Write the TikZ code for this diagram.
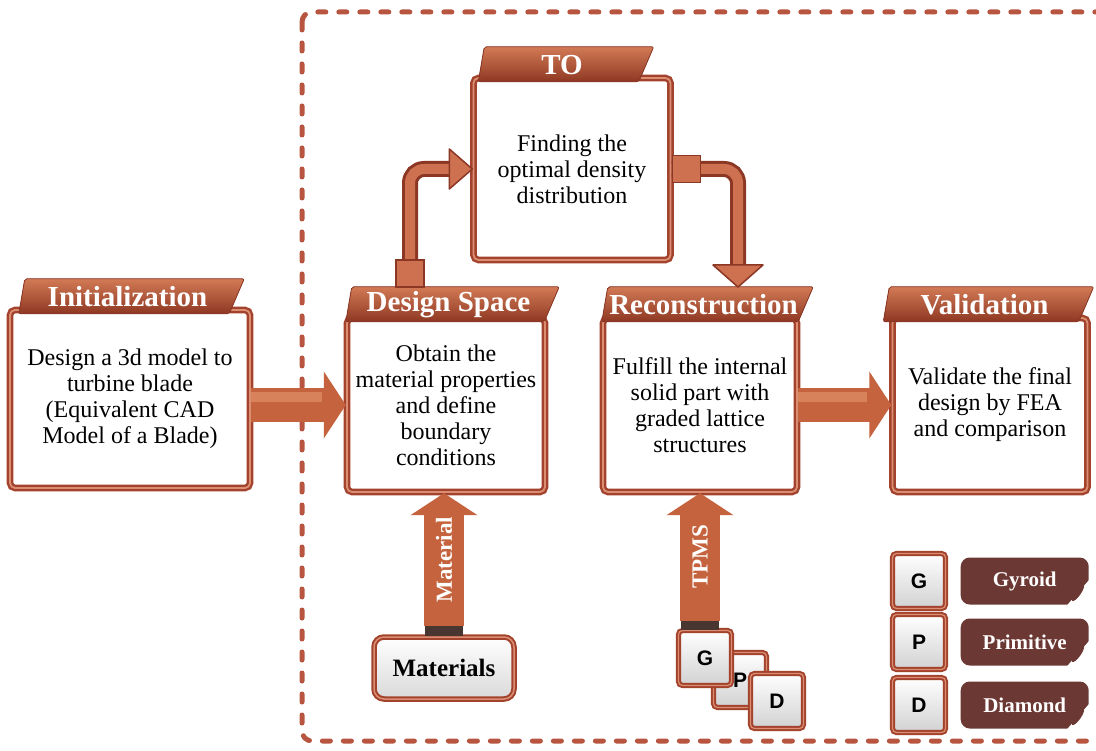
\documentclass[tikz,border=0pt]{standalone}
\usepackage{fontspec}
\setmainfont{Liberation Serif}
\newfontfamily\keyfont{Liberation Sans}
\usepackage{tikz}
\usetikzlibrary{calc, positioning, arrows.meta, shadows}

\definecolor{frameclr}{HTML}{A3432D}
\definecolor{framelt}{HTML}{DB8E72}
\definecolor{bannertop}{HTML}{D27A55}
\definecolor{bannerbot}{HTML}{8E3823}
\definecolor{arrowclr}{HTML}{C4633D}
\definecolor{arrowlt}{HTML}{D7825B}
\definecolor{pipedark}{HTML}{8C3624}
\definecolor{pipelt}{HTML}{CD7150}
\definecolor{tagclr}{HTML}{6B3834}
\definecolor{stubclr}{HTML}{4A3631}
\definecolor{dashclr}{HTML}{B85540}

\tikzset{
  stagebox/.style={rectangle, draw=frameclr, line width=2.4pt, double=framelt, double distance=1.8pt,
    rounded corners=5pt, fill=white, align=center, font=\fontsize{24}{26}\selectfont,
    drop shadow={opacity=0.2, shadow xshift=2pt, shadow yshift=-2pt}},
  banner/.style={top color=bannertop, bottom color=bannerbot, draw=pipedark, line width=0.8pt, rounded corners=2pt},
  title/.style={text=white, font=\bfseries\fontsize{29}{31}\selectfont},
  blockarr/.style={draw=arrowclr, line width=34pt, -{Triangle[length=22pt,width=66pt]}},
  vertarr/.style={blockarr, line width=40pt},
  shine/.style={draw=arrowlt, line width=10pt},
  stub/.style={draw=stubclr, line width=38pt},
  arrtext/.style={text=white, font=\bfseries\fontsize{23}{25}\selectfont},
  pipe/.style={draw=pipedark, line width=3pt, double=pipelt, double distance=10pt, rounded corners=14pt},
  pipehead/.style={fill=pipelt, draw=pipedark, line width=1.5pt, line join=round},
  sqmark/.style={rectangle, minimum width=28pt, minimum height=27pt, fill=pipelt, draw=pipedark, line width=1.5pt},
  keycap/.style={rectangle, rounded corners=4pt, minimum width=53pt, minimum height=55pt,
    draw=frameclr, line width=2pt, double=framelt, double distance=1.2pt,
    top color=white, bottom color=black!18, font=\keyfont\bfseries\fontsize{21}{21}\selectfont},
  tag/.style={rectangle, rounded corners=9pt, fill=tagclr, minimum width=128pt, minimum height=47pt,
    text=white, font=\bfseries\fontsize{21}{23}\selectfont},
  matbox/.style={rectangle, rounded corners=10pt, minimum width=140pt, minimum height=62pt,
    draw=frameclr, line width=2pt, double=framelt, double distance=1.5pt,
    top color=white, bottom color=black!15, font=\bfseries\fontsize{25}{27}\selectfont,
    drop shadow={opacity=0.2, shadow xshift=2pt, shadow yshift=-2pt}},
  dashframe/.style={draw=dashclr, line width=5pt, line cap=round, dash pattern=on 8pt off 13pt, rounded corners=10pt}
}

\begin{document}
\begin{tikzpicture}[x=1pt, y=-1pt]
  \useasboundingbox (0,0) rectangle (1096,751);
  \clip (0,0) rectangle (1096,751);
  \fill[white] (0,0) rectangle (1096,751);

  % dashed frame round the optimisation loop
  \draw[dashframe] (302,12) rectangle (1140,741);

  % the five stages
  \node[stagebox, minimum width=240pt, minimum height=178pt] (init) at (130,399)
    {Design a 3d model to\\turbine blade\\(Equivalent CAD\\Model of a Blade)};
  \node[stagebox, minimum width=198pt, minimum height=174pt] (design) at (446,405)
    {Obtain the\\material properties\\and define\\boundary\\conditions};
  \node[stagebox, minimum width=197pt, minimum height=182pt] (TO) at (572,169)
    {Finding the\\optimal density\\distribution};
  \node[stagebox, minimum width=194pt, minimum height=174pt] (recon) at (700,405)
    {Fulfill the internal\\solid part with\\graded lattice\\structures};
  \node[stagebox, minimum width=195pt, minimum height=174pt] (valid) at (990,405)
    {Validate the final\\design by FEA\\and comparison};

  % banners on top of the stages
  \foreach \sname/\dl/\dr/\ttl in {init/10/-7/Initialization, design/0/13/Design Space,
      TO/6/-18/TO, recon/0/15/Reconstruction, valid/-8/5/Validation}{
    \filldraw[banner] ($(\sname.north west)+(\dl+6,-30)$) -- ($(\sname.north east)+(\dr,-30)$)
      -- ($(\sname.north east)+(\dr-15,5)$) -- ($(\sname.north west)+(\dl,5)$) -- cycle;
    \node[title] (\sname-title) at ($(\sname.north)+({(\dl+\dr)/2-4},-12)$) {\ttl};
  }

  % main flow
  \draw[blockarr] (init.east |- design.west) -- (design.west);
  \draw[shine] ([yshift=8pt]init.east |- design.west) -- ([xshift=-24pt,yshift=8pt]design.west);
  \draw[blockarr] (recon.east) -- (valid.west);
  \draw[shine] ([yshift=8pt]recon.east) -- ([xshift=-24pt,yshift=8pt]valid.west);

  % loop through topology optimisation
  \coordinate (dsTop) at (410,288);
  \coordinate (rcTop) at (738,287);
  \draw[pipe] (dsTop) |- ([xshift=-20pt]TO.west);
  \filldraw[pipehead] (TO.west) -- ++(-23,-20) -- ++(0,40) -- cycle;
  \node[sqmark, anchor=south] (sq1) at (dsTop) {};
  \draw[pipe] (TO.east) -| ([yshift=20pt]rcTop);
  \filldraw[pipehead] (rcTop) -- ++(-25,-22) -- ++(50,0) -- cycle;
  \node[sqmark, anchor=west] (sq2) at (TO.east) {};

  % material input
  \node[matbox] (mats) at (444,668) {Materials};
  \draw[stub] (mats.north) -- ++(0,-10);
  \draw[vertarr] (mats.north) ++(0,-10) -- (mats.north |- design.south)
    node[midway, sloped, arrtext] {Material};

  % TPMS cells stacked under the reconstruction
  \foreach \l/\x/\y in {P/740/680, G/705/658, D/777/701}{
    \node[keycap] (key\l) at (\x,\y) {\l};
  }
  \coordinate (tpmsBase) at (recon.south |- keyG.north);
  \draw[stub] (tpmsBase) -- ++(0,-9);
  \draw[vertarr] (tpmsBase) ++(0,-9) -- (recon.south)
    node[midway, sloped, arrtext] {TPMS};

  % legend
  \foreach \l/\word/\y in {G/Gyroid/581, P/Primitive/642, D/Diamond/705}{
    \node[keycap] (leg\l) at (919,\y) {\l};
    \node[tag, right=14pt of leg\l] (tag\l) {\word};
    \fill[white] ($(tag\l.south east)+(-24,3)$) -- ($(tag\l.south east)+(3,-28)$)
      -- ($(tag\l.south east)+(3,3)$) -- cycle;
    \fill[tagclr, shift={($(tag\l.south east)+(-11,-12)$)}, rotate=-35] (0,0) ellipse (3 and 10);
  }
\end{tikzpicture}
\end{document}
